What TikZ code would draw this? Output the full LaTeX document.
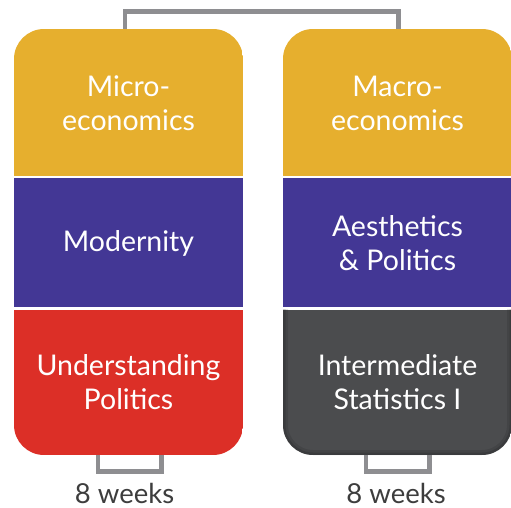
\documentclass[tikz,border=0pt]{standalone}
\usepackage{fontspec}
\setmainfont{Lato}
\definecolor{cyellow}{HTML}{E6AF2E}
\definecolor{cpurple}{HTML}{433795}
\definecolor{cred}{HTML}{DC2F27}
\definecolor{cdark}{HTML}{4B4C4E}
\definecolor{cline}{HTML}{8E8E91}
\definecolor{ctext}{HTML}{3D3D3D}
\tikzset{
  seg/.style={inner sep=0pt, minimum width=229pt, align=center, text=white,
    font=\fontsize{28.5}{34}\selectfont},
  link/.style={draw=cline, line width=4.5pt},
  weeks/.style={text=ctext, font=\fontsize{27.5}{30}\selectfont, inner sep=0pt}
}
\begin{document}
\begin{tikzpicture}[x=1pt,y=-1pt]
\useasboundingbox (0,0) rectangle (511,508);
% left column
\begin{scope}
  \clip[rounded corners=30pt] (14,29) rectangle (243,455);
  \fill[cyellow] (14,29) rectangle (243,176);
  \fill[cpurple] (14,178) rectangle (243,307);
  \fill[cred] (14,309.5) rectangle (243,455);
\end{scope}
% right column
\begin{scope}
  \clip[rounded corners=30pt] (283,29) rectangle (512,455);
  \fill[cyellow] (283,29) rectangle (512,176);
  \fill[cpurple] (283,178) rectangle (512,307);
  \fill[cdark] (283,309.5) rectangle (512,455);
  \clip (283,309.5) rectangle (512,455);
  \draw[black, opacity=0.10, line width=10pt, rounded corners=30pt] (283,29) rectangle (512,455);
  \draw[black, opacity=0.12, line width=5pt, rounded corners=30pt] (283,29) rectangle (512,455);
\end{scope}
% text nodes
\node[seg, minimum height=147pt] (m1) at (128.5,103.5) {Micro-\\economics};
\node[seg, minimum height=129pt] (m2) at (128.5,243.5) {Modernity};
\node[seg, minimum height=145.5pt] (m3) at (128.5,382.25) {Understanding\\Politics};
\node[seg, minimum height=147pt] (n1) at (397.5,103.5) {Macro-\\economics};
\node[seg, minimum height=129pt] (n2) at (397.5,243.5) {Aesthetics\\\& Politics};
\node[seg, minimum height=145.5pt] (n3) at (397.5,382.25) {Intermediate\\Statistics I};
% top connector
\coordinate (t1) at (125,29);
\coordinate (t2) at (398.5,29);
\draw[link] (t1) -- ++(0,-17.5) -| (t2);
% bottom brackets
\coordinate (b1) at (128.5,455);
\coordinate (b2) at (397.5,455);
\draw[link] ([xshift=-30.5pt]b1) -- ++(0,16.5) -| ([xshift=32.8pt]b1);
\draw[link] ([xshift=-31.5pt]b2) -- ++(0,16.5) -| ([xshift=32.2pt]b2);
% labels
\node[weeks] (w1) at (124.5,493) {8 weeks};
\node[weeks] (w2) at (396,493) {8 weeks};
\end{tikzpicture}
\end{document}
